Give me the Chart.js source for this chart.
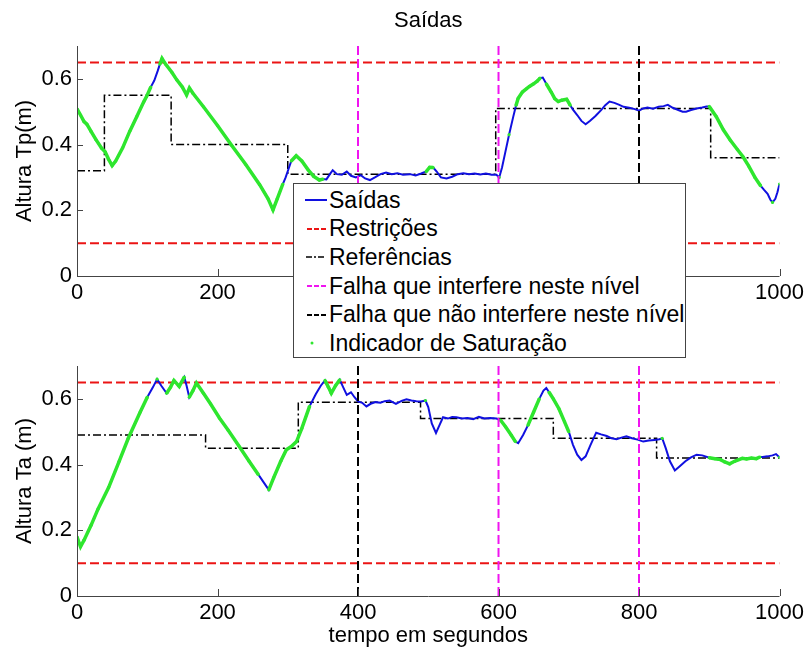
<!DOCTYPE html>
<html>
<head>
<meta charset="utf-8">
<script src="https://cdn.jsdelivr.net/npm/chart.js@4"></script>
<style>
  body { margin: 0; background: #fff; width: 808px; height: 653px; position: relative; overflow: hidden;
         font-family: "Liberation Sans", Arial, sans-serif; }
  canvas { position: absolute; left: 0; }
  #chartTp { top: 0; }
  #chartTa { top: 320px; }
  #legend { position: absolute; left: 293px; top: 183px; width: 393px; height: 175px; box-sizing: border-box;
            border: 1px solid #444; background: #fff; z-index: 5; padding-top: 2px; }
  .row { height: 28.6px; display: flex; align-items: center; font-size: 23px; color: #000; white-space: nowrap; }
  .row svg { width: 22px; height: 12px; margin-left: 11px; margin-right: 2px; flex: none; }
</style>
</head>
<body>
<canvas id="chartTp" width="808" height="320"></canvas>
<canvas id="chartTa" width="808" height="333"></canvas>
<div id="legend">
  <div class="row"><svg viewBox="0 0 22 12"><line x1="0" y1="6" x2="22" y2="6" stroke="#1010e0" stroke-width="2"/></svg>Saídas</div>
  <div class="row"><svg viewBox="0 0 22 12"><line x1="2" y1="6" x2="21" y2="6" stroke="#eb1414" stroke-width="2" stroke-dasharray="5,2"/></svg>Restrições</div>
  <div class="row"><svg viewBox="0 0 22 12"><line x1="1" y1="6" x2="21" y2="6" stroke="#000" stroke-width="1.5" stroke-dasharray="6,2,2,2"/></svg>Referências</div>
  <div class="row"><svg viewBox="0 0 22 12"><line x1="2" y1="6" x2="21" y2="6" stroke="#f014f0" stroke-width="2" stroke-dasharray="5,2"/></svg>Falha que interfere neste nível</div>
  <div class="row"><svg viewBox="0 0 22 12"><line x1="2" y1="6" x2="21" y2="6" stroke="#000" stroke-width="2" stroke-dasharray="5,2"/></svg>Falha que não interfere neste nível</div>
  <div class="row"><svg viewBox="0 0 22 12"><circle cx="7" cy="6" r="1.5" fill="#2ee62e"/></svg>Indicador de Saturação</div>
</div>
<script>
// ---- Tank Tp: measured level, saturation flag, reference steps ----
const tpTime = [0, 5, 10, 14, 20, 27, 35, 40, 45, 50,
  55, 65, 75, 85, 95, 99, 105, 110, 115, 118,
  121, 126, 135, 142, 150, 156, 160, 165, 180, 200,
  220, 240, 260, 272, 279, 285, 293, 297, 305, 312,
  320, 329, 337, 345, 350, 355, 360, 364, 370, 377,
  384, 390, 397, 404, 410, 417, 424, 432, 440, 448,
  456, 464, 474, 482, 490, 497, 502, 507, 512, 518,
  526, 534, 542, 550, 558, 566, 574, 582, 590, 597,
  601, 605, 610, 615, 621, 625, 628, 634, 640, 644,
  650, 655, 659, 663, 668, 675, 680, 685, 690, 697,
  702, 706, 712, 718, 724, 730, 738, 746, 752, 758,
  765, 772, 778, 786, 794, 800, 806, 812, 820, 828,
  835, 841, 848, 855, 862, 867, 874, 882, 890, 896,
  900, 910, 920, 930, 940, 948, 956, 965, 973, 978,
  983, 987, 990, 994, 997, 1000];
const tpLevel = [0.509, 0.49, 0.47, 0.462, 0.44, 0.415, 0.389, 0.378, 0.355, 0.336,
  0.35, 0.39, 0.44, 0.485, 0.53, 0.546, 0.575, 0.595, 0.625, 0.645,
  0.662, 0.645, 0.62, 0.597, 0.575, 0.551, 0.572, 0.556, 0.515, 0.458,
  0.398, 0.34, 0.278, 0.235, 0.201, 0.235, 0.28, 0.30, 0.35, 0.366,
  0.35, 0.323, 0.303, 0.292, 0.295, 0.294, 0.31, 0.322, 0.31, 0.308,
  0.318, 0.305, 0.30, 0.307, 0.297, 0.292, 0.30, 0.31, 0.315, 0.31,
  0.313, 0.308, 0.31, 0.306, 0.312, 0.318, 0.331, 0.33, 0.318, 0.30,
  0.297, 0.302, 0.31, 0.313, 0.31, 0.312, 0.309, 0.312, 0.308, 0.308,
  0.30, 0.33, 0.38, 0.43, 0.485, 0.52, 0.541, 0.56, 0.57, 0.577,
  0.585, 0.593, 0.602, 0.604, 0.585, 0.56, 0.54, 0.531, 0.535, 0.538,
  0.52, 0.506, 0.49, 0.472, 0.462, 0.472, 0.487, 0.505, 0.52, 0.531,
  0.527, 0.521, 0.515, 0.512, 0.508, 0.503, 0.51, 0.513, 0.509, 0.515,
  0.517, 0.521, 0.512, 0.506, 0.50, 0.50, 0.505, 0.51, 0.513, 0.516,
  0.516, 0.485, 0.445, 0.413, 0.385, 0.363, 0.335, 0.30, 0.275, 0.262,
  0.25, 0.232, 0.224, 0.235, 0.255, 0.28];
const tpSaturated = [1, 1, 1, 1, 1, 1, 1, 1, 1, 1,
  1, 1, 1, 1, 1, 1, 1, 0, 0, 1,
  1, 1, 1, 1, 1, 1, 1, 1, 1, 1,
  1, 1, 1, 1, 1, 1, 1, 0, 1, 1,
  1, 1, 1, 1, 1, 0, 0, 0, 0, 0,
  0, 0, 0, 0, 0, 0, 0, 0, 0, 0,
  0, 0, 0, 0, 0, 1, 1, 1, 0, 0,
  0, 0, 0, 0, 0, 0, 0, 0, 0, 0,
  1, 0, 0, 1, 0, 1, 1, 1, 1, 1,
  1, 1, 1, 0, 1, 1, 1, 1, 1, 1,
  1, 0, 0, 0, 0, 0, 0, 0, 0, 0,
  0, 0, 0, 0, 0, 0, 0, 0, 0, 0,
  0, 0, 0, 0, 0, 0, 0, 0, 0, 0,
  1, 1, 1, 1, 1, 1, 1, 1, 1, 0,
  0, 0, 1, 0, 0, 1];
const tpRefTime = [0, 39, 134, 300, 596, 902, 1000];
const tpRefLevel = [0.32, 0.55, 0.40, 0.31, 0.51, 0.36, 0.36];
const tpFaultsHere = [400, 600];
const tpFaultsElsewhere = [800];

// ---- Tank Ta ----
const taTime = [0, 5, 10, 20, 30, 45, 60, 73, 90, 100,
  108, 114, 120, 127.6, 133, 138, 145.5, 152.7, 156, 159.8,
  165, 170, 180, 190, 203, 215, 230, 245, 258, 265,
  273, 280, 290, 298, 305, 312.5, 320, 331, 340, 347,
  353, 358, 362, 368, 374, 379, 384, 390, 395, 400,
  406, 412, 418, 425, 432, 438, 445, 454, 462, 469,
  476, 483, 490, 496, 500, 505, 511, 516, 521, 528,
  534, 540, 548, 556, 564, 572, 580, 588, 597, 603,
  610, 618, 624, 628, 635, 642, 650, 658, 664, 668,
  672, 678, 686, 694, 700, 706, 712, 718, 724, 731,
  739, 746, 754, 761, 768, 775, 782, 790, 798, 806,
  814, 822, 829, 833, 838, 844, 851, 858, 866, 874,
  882, 890, 900, 908, 916, 922, 929, 936, 942, 947,
  953, 960, 967, 972, 976, 983, 990, 995, 1000];
const taLevel = [0.18, 0.15, 0.17, 0.215, 0.265, 0.33, 0.41, 0.48, 0.56, 0.605,
  0.635, 0.66, 0.64, 0.617, 0.635, 0.656, 0.638, 0.666, 0.64, 0.605,
  0.625, 0.648, 0.617, 0.585, 0.541, 0.505, 0.458, 0.41, 0.37, 0.348,
  0.323, 0.36, 0.41, 0.445, 0.455, 0.47, 0.51, 0.577, 0.615, 0.64,
  0.656, 0.635, 0.617, 0.64, 0.658, 0.635, 0.612, 0.62, 0.605, 0.592,
  0.588, 0.577, 0.585, 0.59, 0.588, 0.593, 0.595, 0.585, 0.594, 0.599,
  0.595, 0.593, 0.592, 0.595, 0.575, 0.525, 0.496, 0.52, 0.544, 0.54,
  0.545, 0.544, 0.54, 0.542, 0.538, 0.545, 0.54, 0.542, 0.54, 0.535,
  0.515, 0.49, 0.47, 0.465, 0.49, 0.52, 0.56, 0.60, 0.625, 0.633,
  0.62, 0.60, 0.57, 0.53, 0.50, 0.46, 0.43, 0.414, 0.425, 0.46,
  0.497, 0.492, 0.487, 0.48, 0.477, 0.482, 0.486, 0.48, 0.476, 0.47,
  0.473, 0.475, 0.477, 0.48, 0.45, 0.41, 0.382, 0.395, 0.41, 0.422,
  0.43, 0.428, 0.421, 0.418, 0.415, 0.408, 0.402, 0.41, 0.415, 0.419,
  0.417, 0.42, 0.418, 0.423, 0.423, 0.425, 0.428, 0.432, 0.422];
const taSaturated = [1, 1, 1, 1, 1, 1, 1, 1, 1, 1,
  0, 1, 0, 1, 1, 1, 1, 1, 0, 1,
  1, 1, 1, 1, 1, 1, 1, 1, 1, 0,
  1, 1, 1, 1, 1, 1, 1, 1, 0, 0,
  1, 1, 1, 1, 1, 0, 0, 0, 0, 0,
  0, 0, 0, 0, 0, 0, 0, 0, 0, 0,
  0, 0, 0, 1, 0, 0, 0, 0, 0, 0,
  0, 0, 0, 0, 0, 0, 0, 0, 0, 1,
  1, 1, 1, 0, 0, 1, 1, 1, 0, 0,
  1, 1, 1, 1, 1, 0, 0, 0, 0, 0,
  0, 0, 0, 0, 0, 0, 0, 0, 0, 0,
  0, 0, 0, 1, 0, 0, 0, 0, 0, 0,
  0, 0, 1, 1, 1, 1, 1, 1, 1, 1,
  1, 1, 1, 1, 0, 0, 0, 0, 1];
const taRefTime = [0, 183, 315, 489, 678, 825, 1000];
const taRefLevel = [0.49, 0.45, 0.59, 0.54, 0.48, 0.42, 0.42];
const taFaultsHere = [600, 800];
const taFaultsElsewhere = [400];

// ---- shared axis settings ----
const limits = [0.1, 0.65];
const yTickValues = [0, 0.2, 0.4, 0.6];
const xTickValues = [0, 200, 400, 600, 800, 1000];
const X_MIN = 0, X_MAX = 1000, Y_MIN = 0, Y_MAX = 0.7;

const FONT = '"Liberation Sans", Arial, sans-serif';
const BLUE = '#1010e0', GREEN = '#2ee62e', RED = '#eb1414', MAGENTA = '#f014f0';

const points = (xs, ys) => xs.map((x, i) => ({ x, y: ys[i] }));
const vLine = t => [{ x: t, y: Y_MIN }, { x: t, y: Y_MAX }];
const hLine = v => [{ x: X_MIN, y: v }, { x: X_MAX, y: v }];

// inward tick marks, axis lines and text labels drawn over the plot
const axesDecor = {
  id: 'axesDecor',
  afterDraw(chart, args, opts) {
    const { ctx, chartArea: a, scales: { x, y } } = chart;
    ctx.save();
    ctx.strokeStyle = '#444';
    ctx.lineWidth = 1;
    ctx.beginPath();
    x.ticks.forEach(t => {
      const px = Math.round(x.getPixelForValue(t.value)) + 0.5;
      ctx.moveTo(px, a.bottom); ctx.lineTo(px, a.bottom - 7);
    });
    y.ticks.forEach(t => {
      const py = Math.round(y.getPixelForValue(t.value)) + 0.5;
      ctx.moveTo(a.left, py); ctx.lineTo(a.left + 6, py);
    });
    ctx.moveTo(a.left + 0.5, a.top);
    ctx.lineTo(a.left + 0.5, a.bottom + 0.5);
    ctx.lineTo(a.right, a.bottom + 0.5);
    ctx.stroke();

    ctx.fillStyle = '#000';
    ctx.font = '22px ' + FONT;
    ctx.textAlign = 'center';
    ctx.textBaseline = 'middle';
    const cx = (a.left + a.right) / 2;
    if (opts.title) ctx.fillText(opts.title, cx, 21);
    if (opts.xLabel) ctx.fillText(opts.xLabel, cx, a.bottom + 40);
    if (opts.yLabel) {
      ctx.translate(25, (a.top + a.bottom) / 2);
      ctx.rotate(-Math.PI / 2);
      ctx.fillText(opts.yLabel, 0, 0);
    }
    ctx.restore();
  }
};

function buildChart(canvasId, d) {
  const canvasH = document.getElementById(canvasId).height;
  const datasets = [];
  limits.forEach(v => datasets.push({
    data: hLine(v), borderColor: RED, borderWidth: 2, borderDash: [9, 4], order: 6
  }));
  datasets.push({
    data: points(d.refTime, d.refLevel), stepped: true, borderColor: '#000',
    borderWidth: 1.5, borderDash: [8, 3, 2, 3], order: 5
  });
  datasets.push({
    data: points(d.time, d.level), borderColor: BLUE, borderWidth: 2, order: 4
  });
  datasets.push({
    data: d.time.map((t, i) => ({ x: t, y: d.saturated[i] ? d.level[i] : null })),
    borderColor: GREEN, backgroundColor: GREEN, borderWidth: 3.5,
    pointRadius: 1.6, pointBorderWidth: 0, spanGaps: false, order: 3
  });
  d.faultsHere.forEach(t => datasets.push({
    data: vLine(t), borderColor: MAGENTA, borderWidth: 2, borderDash: [9, 4], order: 1
  }));
  d.faultsElsewhere.forEach(t => datasets.push({
    data: vLine(t), borderColor: '#000', borderWidth: 2, borderDash: [9, 4], order: 1
  }));

  return new Chart(document.getElementById(canvasId), {
    type: 'line',
    data: { datasets },
    options: {
      responsive: false,
      animation: false,
      events: [],
      layout: { padding: { left: 0, right: 28, top: 46, bottom: 0 } },
      elements: { point: { radius: 0 }, line: { tension: 0, fill: false } },
      plugins: {
        legend: { display: false },
        tooltip: { enabled: false },
        axesDecor: { title: d.title, yLabel: d.yLabel, xLabel: d.xLabel }
      },
      scales: {
        x: {
          type: 'linear', min: X_MIN, max: X_MAX,
          afterBuildTicks: s => { s.ticks = xTickValues.map(v => ({ value: v })); },
          afterFit: s => { s.height = canvasH - 276; },
          grid: { display: false, drawTicks: false },
          border: { display: false },
          ticks: { color: '#000', padding: 4, maxRotation: 0, font: { size: 22, family: FONT },
                   callback: v => String(v) }
        },
        y: {
          type: 'linear', min: Y_MIN, max: Y_MAX,
          afterBuildTicks: s => { s.ticks = yTickValues.map(v => ({ value: v })); },
          afterFit: s => { s.width = 77; },
          grid: { display: false, drawTicks: false },
          border: { display: false },
          ticks: { color: '#000', padding: 5, font: { size: 22, family: FONT },
                   callback: v => (v === 0 ? '0' : v.toFixed(1)) }
        }
      }
    },
    plugins: [axesDecor]
  });
}

buildChart('chartTp', {
  time: tpTime, level: tpLevel, saturated: tpSaturated,
  refTime: tpRefTime, refLevel: tpRefLevel,
  faultsHere: tpFaultsHere, faultsElsewhere: tpFaultsElsewhere,
  title: 'Saídas', yLabel: 'Altura Tp(m)'
});
buildChart('chartTa', {
  time: taTime, level: taLevel, saturated: taSaturated,
  refTime: taRefTime, refLevel: taRefLevel,
  faultsHere: taFaultsHere, faultsElsewhere: taFaultsElsewhere,
  yLabel: 'Altura Ta (m)', xLabel: 'tempo em segundos'
});
</script>
</body>
</html>
